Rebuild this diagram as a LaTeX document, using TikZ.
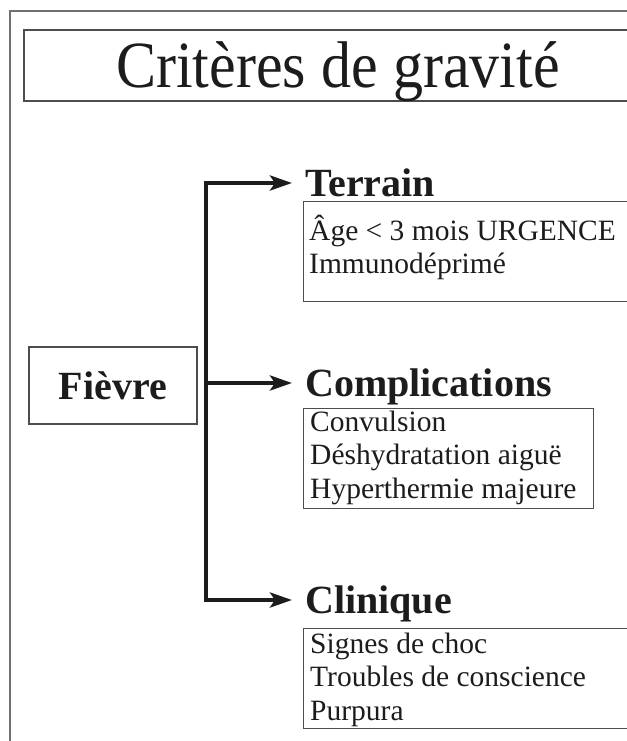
\documentclass[tikz,border=0pt]{standalone}
\usepackage{fontspec}
\setmainfont{Liberation Serif}
\newfontfamily\titlefont[FakeStretch=0.91]{Liberation Serif}
\usetikzlibrary{arrows.meta,calc}
\definecolor{Frame}{HTML}{4D4D4D}
\definecolor{Ink}{HTML}{1C1C1C}

\begin{document}
\begin{tikzpicture}[x=1pt,y=-1pt,
  frame/.style={draw=Frame!80,line width=1.6pt},
  titlebox/.style={draw=Frame,line width=1.3pt,minimum width=628pt,minimum height=71pt,inner sep=0pt,text height=43.7pt,text depth=0pt,text=Ink,font=\titlefont\fontsize{66}{70}\selectfont},
  rootbox/.style={draw=Frame,line width=1.3pt,minimum width=168pt,minimum height=77pt,inner sep=0pt,text height=27pt,text depth=0pt,text=Ink,font=\fontsize{40}{46}\selectfont\bfseries},
  head/.style={anchor=west,inner xsep=13pt,inner ysep=0pt,text height=27pt,text depth=0pt,text=Ink,font=\fontsize{40}{46}\selectfont\bfseries},
  listbox/.style={draw=Frame,line width=1.3pt,anchor=north west,minimum height=100pt,inner sep=0pt},
  listtext/.style={anchor=base west,inner sep=0pt,align=left,text=Ink,font=\fontsize{29.5}{33.5}\selectfont},
  arrow/.style={-{Stealth[length=22pt,width=15pt,inset=5pt]},line width=4pt,draw=Ink,line join=miter}
]
\useasboundingbox (0,0) rectangle (626,741);
\draw[frame] (10,11) rectangle (660,780);
\node[titlebox] (title) at (338,65.5) {Critères de gravité};
\node[rootbox] (fievre) at (113,385.5) {Fièvre};
% tree
\coordinate (top) at (205.5,183);
\coordinate (mid) at (205.5,383);
\coordinate (bot) at (205.5,600);
\node[head] (terrain) at (292,183) {Terrain};
\node[head] (compl) at (292,383) {Complications};
\node[head] (clin) at (292,600) {Clinique};
\draw[arrow] (bot) -- (top) -- (terrain.west);
\draw[arrow] (top) -- (bot) -- (clin.west);
\draw[arrow] (mid) -- (compl.west);
% lists (base = last line)
\node[listbox,minimum width=340pt] (terrbox) at (303,201) {};
\node[listbox,minimum width=290pt] (complbox) at (303,408) {};
\node[listbox,minimum width=340pt] (clinbox) at (303,628) {};
\node[listtext] (terrlist) at ($(terrbox.north west)+(6,72.5)$) {Âge < 3 mois URGENCE\\Immunodéprimé};
\node[listtext] (compllist) at ($(complbox.north west)+(7,90)$) {Convulsion\\Déshydratation aiguë\\Hyperthermie majeure};
\node[listtext] (clinlist) at ($(clinbox.north west)+(7,92)$) {Signes de choc\\Troubles de conscience\\Purpura};
\end{tikzpicture}
\end{document}
